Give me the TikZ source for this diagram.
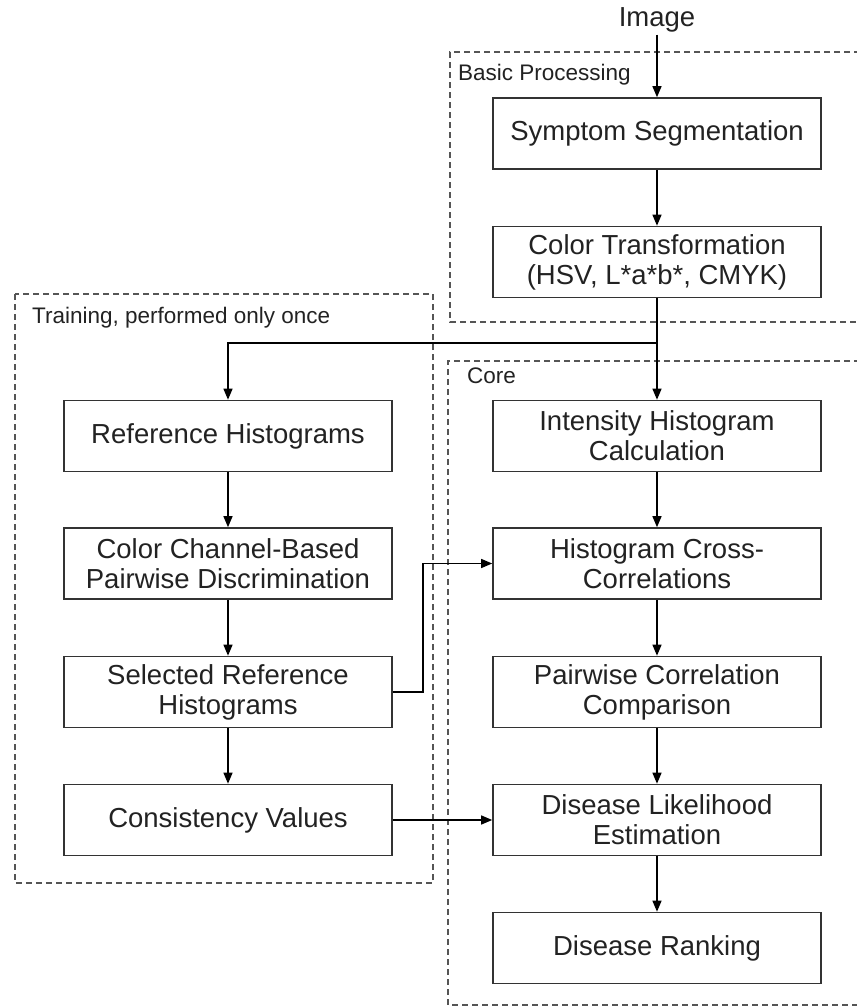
\documentclass[tikz,border=0pt]{standalone}
\usepackage{fontspec}
\setmainfont{Liberation Sans}
\usetikzlibrary{arrows.meta}
\definecolor{boxline}{HTML}{333333}
\definecolor{dashline}{HTML}{555555}
\definecolor{txt}{HTML}{222222}
\tikzset{
  stepbox/.style={draw=boxline, line width=1.6pt, fill=white, minimum width=328pt, minimum height=71pt,
    align=center, inner sep=2pt, text=txt, font=\fontsize{27.5}{30}\selectfont},
  grouplbl/.style={anchor=west, inner sep=0pt, text=txt, font=\fontsize{22.5}{26}\selectfont},
  groupbox/.style={draw=dashline, line width=1.6pt, dash pattern=on 6pt off 4pt},
  arr/.style={draw=black, line width=1.3pt, -{Triangle[length=11pt,width=9pt]}},
  ln/.style={draw=black, line width=1.3pt}
}
\begin{document}
\begin{tikzpicture}[x=1pt,y=-1pt]
\useasboundingbox (0,0) rectangle (857,1007);
\clip (0,0) rectangle (857,1007);
% group boxes
\draw[groupbox] (880,52) -- (450,52) -- (450,322) -- (880,322);
\draw[groupbox] (15,294) rectangle (433,883);
\draw[groupbox] (880,361) -- (448,361) -- (448,1005) -- (880,1005);
\node[grouplbl] (lblbasic) at (458,75) {Basic Processing};
\node[grouplbl] (lbltrain) at (32,318) {Training, performed only once};
\node[grouplbl] (lblcore) at (467,376) {Core};
% nodes
\node[inner sep=0pt, text=txt, font=\fontsize{27.5}{30}\selectfont] (img) at (657,20) {Image};
\node[stepbox] (sym) at (657,133.5) {Symptom Segmentation};
\node[stepbox] (col) at (657,262) {Color Transformation\\(HSV, L*a*b*, CMYK)};
\node[stepbox] (ref) at (228,436) {Reference Histograms};
\node[stepbox] (ccb) at (228,563.5) {Color Channel-Based\\Pairwise Discrimination};
\node[stepbox] (sel) at (228,692) {Selected Reference\\Histograms};
\node[stepbox] (cons) at (228,820) {Consistency Values};
\node[stepbox] (ihc) at (657,436) {Intensity Histogram\\Calculation};
\node[stepbox] (hcc) at (657,563.5) {Histogram Cross-\\Correlations};
\node[stepbox] (pcc) at (657,692) {Pairwise Correlation\\Comparison};
\node[stepbox] (dle) at (657,820) {Disease Likelihood\\Estimation};
\node[stepbox] (rank) at (657,948) {Disease Ranking};
\coordinate (split) at (657,343);
\coordinate (bend) at (423,563.5);
% connectors
\draw[arr] (img.south) ++(0,2) -- (sym.north);
\draw[arr] (sym) -- (col);
\draw[arr] (col) -- (ihc);
\draw[arr] (split) -| (ref.north);
\draw[arr] (ref) -- (ccb);
\draw[arr] (ccb) -- (sel);
\draw[arr] (sel) -- (cons);
\draw[arr] (ihc) -- (hcc);
\draw[arr] (hcc) -- (pcc);
\draw[arr] (pcc) -- (dle);
\draw[arr] (dle) -- (rank);
\draw[arr] (sel.east) -| (bend) -- (hcc.west);
\draw[arr] (cons) -- (dle);
\end{tikzpicture}
\end{document}
